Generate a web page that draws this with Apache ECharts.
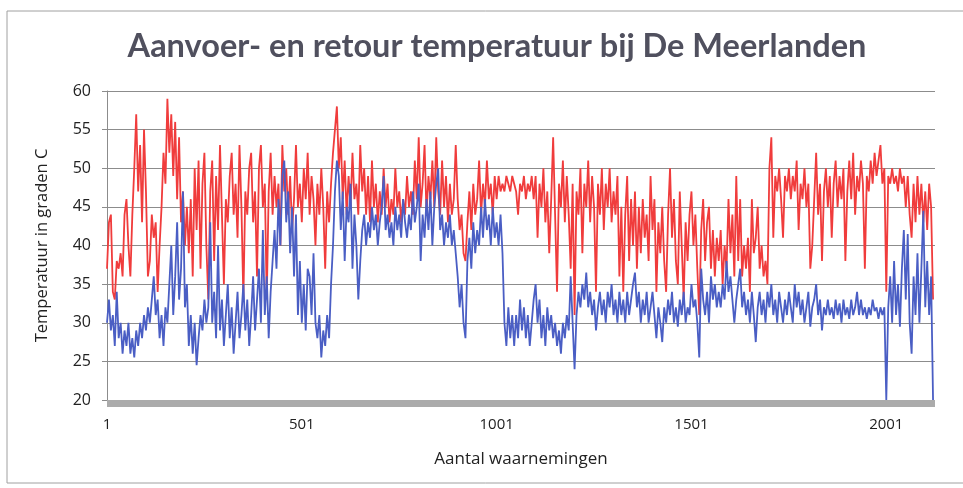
<!DOCTYPE html>
<html>
<head>
<meta charset="utf-8">
<script src="https://cdn.jsdelivr.net/npm/echarts@6/dist/echarts.min.js"></script>
<style>
  html, body { margin: 0; padding: 0; background: #fff; }
  #chart { width: 963px; height: 488px; }
</style>
</head>
<body>
<div id="chart"></div>
<script>
// één waarde per 5 waarnemingen (waarneming 1, 6, 11, ...)
var stap = 5;

// aanvoer (rood)
var aanvoer = [
  37,43,44,34,33,38,37,39,36,44,
  46,40,36,44,50,57,47,53,43,55,
  47,36,38,44,41,43,34,40,45,52,
  48,59,52,57,49,56,46,54,43,47,
  40,45,39,46,36,50,42,51,37,48,
  52,40,33,47,51,38,49,42,53,44,
  35,46,43,49,52,44,48,41,53,45,
  33,47,44,50,52,43,47,36,50,53,
  45,48,33,47,52,44,49,45,48,40,
  53,47,50,44,49,42,46,53,45,48,
  43,50,46,52,44,49,46,40,48,44,
  50,45,37,47,43,48,52,55,58,50,
  54,46,51,44,49,45,52,46,48,44,
  53,47,50,44,49,43,51,45,48,43,
  47,44,50,45,48,43,46,44,50,45,
  47,43,46,44,49,45,47,44,51,46,
  54,45,48,53,44,49,46,51,45,54,
  47,44,51,45,49,43,48,44,46,53,
  46,42,44,39,38,43,47,42,48,44,
  46,51,44,48,45,51,46,48,44,49,
  46,49,47,48,47,49,48,47,49,48,
  47,44,48,47,49,46,48,47,49,46,
  49,41,48,45,50,43,47,39,46,54,
  44,34,48,45,51,43,49,44,37,48,
  31,47,44,50,39,48,45,51,43,49,
  45,34,48,44,50,42,48,45,50,43,
  47,44,49,36,45,34,44,49,38,46,
  40,47,37,45,39,46,41,44,38,49,
  42,46,34,43,39,45,38,34,44,50,
  41,46,38,35,47,40,33,43,38,44,
  47,40,44,37,31,42,46,38,43,45,
  37,42,36,41,38,42,35,40,37,46,
  39,44,36,49,38,46,36,40,37,41,
  34,46,39,41,45,37,40,36,38,35,
  50,54,41,49,47,50,46,41,49,47,
  50,46,49,47,51,42,48,46,50,45,
  48,37,40,46,52,44,48,38,47,50,
  45,49,41,48,51,45,49,46,50,38,
  47,51,46,52,44,49,47,51,48,37,
  49,47,51,48,52,49,51,53,48,50,
  34,49,48,50,48,49,47,50,48,49,
  45,49,44,41,48,43,49,44,48,43,
  47,42,48,45,33
];

// retour (blauw)
var retour = [
  30,33,29,31,27,34,28,30,26,29,
  27,30,26,28,25.5,29,27,30,28,31,
  29,32,30,33,36,31,33,28,31,27,
  32,30,35,40,31,36,43,33,37,47,
  32,35,27,31,26,30,24.5,28,31,29,
  33,30,32,43,30,34,28,40,29,33,
  27,31,35,28,32,26,30,34,28,31,
  35,29,33,27,31,36,29,33,37,30,
  42,31,36,28,34,38,42,37,46,40,
  49,51,43,47,39,45,36,44,31,38,
  30,35,29,37,36,31,39,30,28,31,
  25.5,29,27,31,28,35,40,47,51,49,
  42,47,38,45,43,48,37,44,40,33,
  38,42,44,40,43,41,45,42,44,40,
  43,45,49,42,44,41,43,40,45,42,
  44,41,46,43,41,44,42,47,43,45,
  48,38,44,41,46,42,47,40,45,48,
  50,42,44,40,43,41,44,40,42,39,
  36,32,35,30,28,38,41,37,43,39,
  42,40,45,41,46,42,44,40,45,41,
  43,40,44,39,30,27,32,28,31,27,
  31,28,33,29,32,28,31,27,30,33,
  35,30,33,28,31,27,32,29,31,28,
  30,27,29,26,30,28,31,29,36,30,
  24,31,34,32,35,33,36.5,32,34,31,
  33,29,32,34,31,33,30,34,32,35,
  31,33,30,34,31,33,30,34,31,33,
  35,36.5,32,34,30,33,31,34,30,32,
  34,31,28,32,30,27.5,32,30,33,31,
  34,30,32,29.5,33,31,34,30,32,31,
  35,32,33,30,25.5,37,33,31,34,30,
  36,33,35,32,34,32,35,33,38,34,
  36,33,30,33,35,37,32,34,31,33,
  30,34,31,27.5,32,34,31,33,30,34,
  32,35,31,33,30,34,32,30,33,31,
  34,32,30,35,32,34,31,33,30,32,
  34,29.5,32,33,35,31,33,29,32,31,
  33,31,32,30.5,33,31,32.5,30,33,31,
  32,30.5,33,31,32,34,31,33,31,32,
  30.5,32,31,33,31.5,32,30.5,32,31,32,
  20,32,36,30,38,31,35,29.5,37,42,
  33,41.5,30,26,36,31,39,30,37,44.5,
  32,38,31,36,20
];

var xTicks = [1, 501, 1001, 1501, 2001];

var chart = echarts.init(document.getElementById('chart'));

function paren(arr) {
  return arr.map(function (v, i) { return [i * stap, v]; });
}

var option = {
  backgroundColor: '#fff',
  animation: false,
  title: {
    text: 'Aanvoer- en retour temperatuur bij De Meerlanden',
    left: 492,
    textAlign: 'center',
    top: 25,
    textStyle: { fontFamily: 'Lato', fontWeight: 'bold', fontSize: 32.5, color: '#50505e' }
  },
  graphic: [{
    type: 'rect',
    shape: { x: 7, y: 11, width: 980, height: 472 },
    style: { fill: 'none', stroke: '#a0a0a0', lineWidth: 1 },
    silent: true
  }],
  grid: { left: 107, right: 28, top: 91, bottom: 88 },
  xAxis: {
    type: 'value',
    min: 0,
    max: 2125,
    interval: 500,
    offset: 3,
    name: 'Aantal waarnemingen',
    nameLocation: 'middle',
    nameGap: 48,
    nameTextStyle: { fontFamily: 'Open Sans', fontSize: 17, color: '#222' },
    axisLine: { lineStyle: { color: '#ababab', width: 7, cap: 'butt' } },
    axisTick: { show: false },
    splitLine: { show: false },
    axisLabel: {
      fontFamily: 'Open Sans', fontSize: 15, color: '#222', margin: 14,
      showMaxLabel: false,
      formatter: function (v) {
        var t = v + 1;
        return xTicks.indexOf(t) >= 0 ? String(t) : '';
      }
    }
  },
  yAxis: {
    type: 'value',
    min: 20,
    max: 60,
    interval: 5,
    name: 'Temperatuur in graden C',
    nameLocation: 'middle',
    nameGap: 56,
    nameTextStyle: { fontFamily: 'Open Sans', fontSize: 16.5, color: '#222' },
    axisLine: { show: true, lineStyle: { color: '#8c8c8c', width: 1 } },
    axisTick: { show: true, length: 5, lineStyle: { color: '#8c8c8c' } },
    splitLine: { lineStyle: { color: '#8c8c8c', width: 1 } },
    axisLabel: { fontFamily: 'Open Sans', fontSize: 16, color: '#222', margin: 16 }
  },
  series: [
    {
      name: 'Aanvoer',
      type: 'line',
      data: paren(aanvoer),
      showSymbol: false,
      lineStyle: { color: '#f03c3c', width: 1.8 },
      z: 2
    },
    {
      name: 'Retour',
      type: 'line',
      data: paren(retour),
      showSymbol: false,
      lineStyle: { color: '#4a5ec4', width: 1.8 },
      z: 3
    }
  ]
};

chart.setOption(option);
</script>
</body>
</html>
